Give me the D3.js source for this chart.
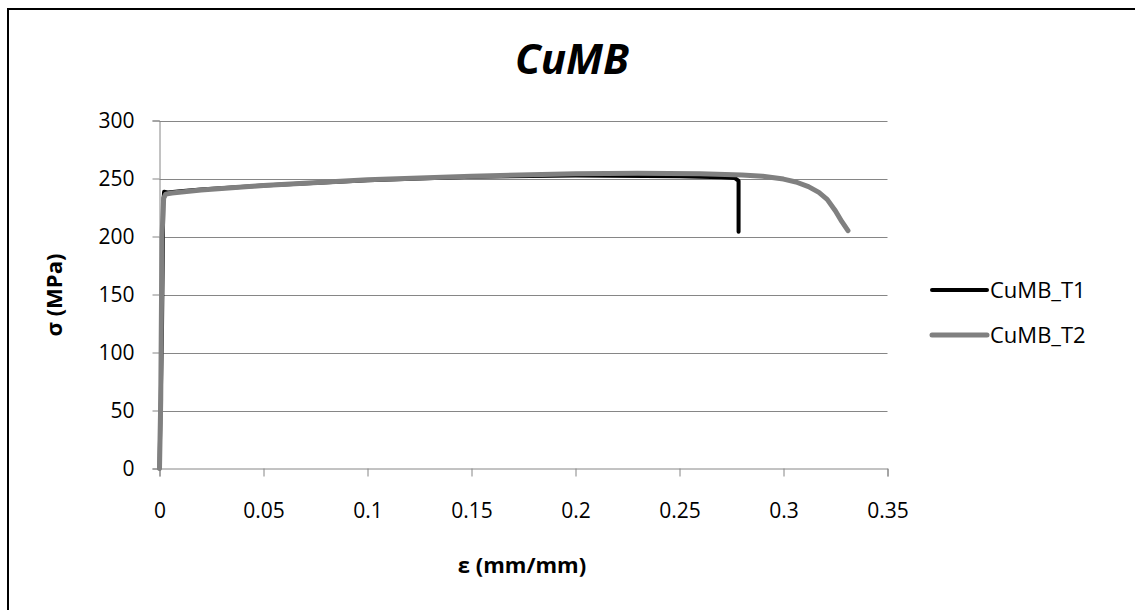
<!DOCTYPE html>
<html>
<head>
<meta charset="utf-8">
<script src="https://cdn.jsdelivr.net/npm/d3@7"></script>
<style>
  html, body { margin: 0; padding: 0; background: #fff; }
  svg { display: block; font-family: "Open Sans", sans-serif; }
</style>
</head>
<body>
<svg id="chart" width="1135" height="610"></svg>
<script>
// CuMB tensile curves
var seriesNames = ['CuMB_T1', 'CuMB_T2'];
var seriesColors = ['#000000', '#808080'];

var t1Strain = [0, 0.0012, 0.0018, 0.0022, 0.004, 0.01, 0.02, 0.05, 0.1, 0.15, 0.2, 0.25, 0.27, 0.2765, 0.2784, 0.2784, 0.2784];
var t1Stress = [0, 120, 228, 238.5, 238, 239, 240.5, 244, 248.5, 251.5, 252.5, 252, 251, 250.5, 248, 230, 204];

var t2Strain = [0, 0.0006, 0.0012, 0.002, 0.003, 0.006, 0.02, 0.05, 0.1, 0.15, 0.2, 0.23, 0.26, 0.28, 0.29, 0.3, 0.306, 0.312, 0.317, 0.321, 0.325, 0.328, 0.331];
var t2Stress = [0, 60, 200, 233, 236.5, 237.5, 240, 244, 249, 252, 254, 254.5, 254, 253, 252, 249.5, 247, 243, 238, 232, 222, 213, 205];

var xTicks = [0, 0.05, 0.1, 0.15, 0.2, 0.25, 0.3, 0.35];
var yTicks = [0, 50, 100, 150, 200, 250, 300];

var chartTitle = 'CuMB';
var xTitle = 'ε (mm/mm)';
var yTitle = 'σ (MPa)';

(function() {
  var svg = d3.select('#chart');
  var left = 159.5, right = 887.5, top = 120.5, bottom = 468.5;

  var x = d3.scaleLinear().domain([0, 0.35]).range([left, right]);
  var y = d3.scaleLinear().domain([0, 300]).range([bottom, top]);

  // outer frame (runs off the right and bottom edge)
  svg.append('rect')
    .attr('x', 8).attr('y', 9)
    .attr('width', 1140).attr('height', 610)
    .attr('fill', 'none')
    .attr('stroke', '#000')
    .attr('stroke-width', 2);

  // gridlines
  svg.append('g')
    .selectAll('line')
    .data(yTicks.filter(function(d) { return d > 0; }))
    .join('line')
    .attr('x1', left).attr('x2', right)
    .attr('y1', function(d) { return Math.round(y(d)) + 0.5; })
    .attr('y2', function(d) { return Math.round(y(d)) + 0.5; })
    .attr('stroke', '#868686')
    .attr('stroke-width', 1);

  // axes
  var xAxis = svg.append('g')
    .attr('transform', 'translate(0,' + bottom + ')')
    .call(d3.axisBottom(x).tickValues(xTicks).tickSize(8).tickPadding(27)
      .tickFormat(function(d) { return d3.format('')(+d.toFixed(2)); }));
  var yAxis = svg.append('g')
    .attr('transform', 'translate(' + left + ',0)')
    .call(d3.axisLeft(y).tickValues(yTicks).tickSize(7).tickPadding(18));

  [xAxis, yAxis].forEach(function(a) {
    a.selectAll('path, line').attr('stroke', '#868686');
    a.selectAll('text')
      .attr('fill', '#000')
      .style('font-size', '21px')
      .style('font-family', '"Open Sans", sans-serif');
  });
  yAxis.selectAll('text').attr('dy', '0.35em');

  // curves
  var line = d3.line()
    .x(function(d) { return x(d[0]); })
    .y(function(d) { return y(d[1]); })
    .curve(d3.curveLinear);

  var series = [
    d3.zip(t1Strain, t1Stress),
    d3.zip(t2Strain, t2Stress)
  ];
  var widths = [4, 5];

  svg.append('g')
    .selectAll('path')
    .data(series)
    .join('path')
    .attr('d', line)
    .attr('fill', 'none')
    .attr('stroke', function(d, i) { return seriesColors[i]; })
    .attr('stroke-width', function(d, i) { return widths[i]; })
    .attr('stroke-linejoin', 'round')
    .attr('stroke-linecap', 'round');

  // legend
  var legend = svg.append('g')
    .selectAll('g')
    .data(seriesNames)
    .join('g')
    .attr('transform', function(d, i) { return 'translate(932,' + (290 + i * 45) + ')'; });
  legend.append('line')
    .attr('x1', 0).attr('x2', 55)
    .attr('stroke', function(d, i) { return seriesColors[i]; })
    .attr('stroke-width', function(d, i) { return widths[i]; })
    .attr('stroke-linecap', 'round');
  legend.append('text')
    .attr('x', 58)
    .attr('dy', '0.35em')
    .style('font-size', '22px')
    .text(function(d) { return d; });

  // titles
  svg.append('text')
    .attr('x', 572).attr('y', 74)
    .attr('text-anchor', 'middle')
    .style('font-size', '42px')
    .style('font-weight', 'bold')
    .style('font-style', 'italic')
    .text(chartTitle);

  svg.append('text')
    .attr('x', 522).attr('y', 565)
    .attr('dy', '0.35em')
    .attr('text-anchor', 'middle')
    .style('font-size', '22px')
    .style('font-weight', 'bold')
    .text(xTitle);

  svg.append('text')
    .attr('transform', 'translate(54,295) rotate(-90)')
    .attr('dy', '0.35em')
    .attr('text-anchor', 'middle')
    .style('font-size', '22px')
    .style('font-weight', 'bold')
    .text(yTitle);
})();
</script>
</body>
</html>
